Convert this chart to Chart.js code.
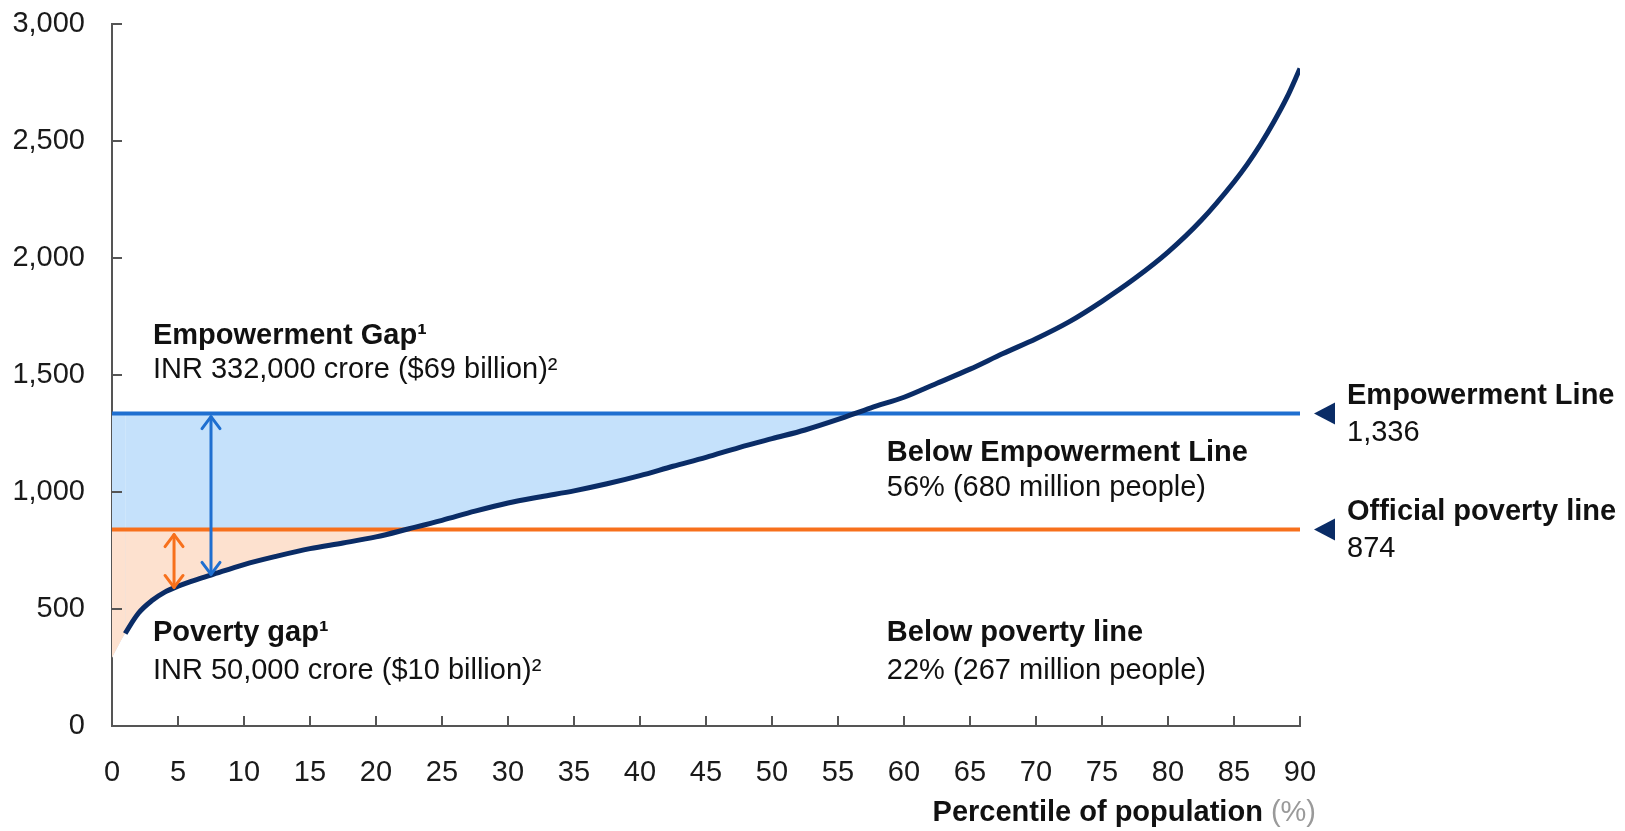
<!DOCTYPE html>
<html>
<head>
<meta charset="utf-8">
<script src="https://cdn.jsdelivr.net/npm/chart.js@4.4.1/dist/chart.umd.min.js"></script>
<style>
  html, body { margin: 0; padding: 0; background: #ffffff; }
  #wrap { width: 1625px; height: 831px; }
</style>
</head>
<body>
<div id="wrap"><canvas id="c" width="1625" height="831"></canvas></div>
<script>
// ---- data ----
const percentile = [0, 1, 2, 3, 4, 5, 6, 7.5, 10, 12.5, 15, 17.5, 20, 22.5, 25, 27.5, 30, 32.5, 35, 37.5, 40, 42.5, 45, 47.5, 50, 52.5, 55, 57.5, 60, 62.5, 65, 67.5, 70, 72.5, 75, 77.5, 80, 82.5, 85, 86, 87, 88, 89, 90];
const spending   = [290, 395, 482, 535, 572, 597, 618, 645, 690, 726, 758, 782, 808, 843, 879, 918, 953, 980, 1005, 1035, 1070, 1110, 1148, 1190, 1228, 1265, 1310, 1360, 1405, 1465, 1525, 1592, 1655, 1727, 1815, 1913, 2025, 2160, 2325, 2400, 2485, 2580, 2685, 2810];
const empowermentLine = 1336;
const povertyLine = 840;            // level as drawn in the picture
const lineNames  = ['Empowerment Line', 'Official poverty line'];
const lineLabels = ['1,336', '874'];
const arrowX      = [7.5, 4.7];
const arrowTop    = [1322, 818];
const arrowBottom = [648, 592];
const xTicks = [0, 90, 5];
const yTicks = [0, 3000, 500];

const FONT = '"Liberation Sans", Arial, sans-serif';
const NAVY = '#0a2c66';
const BLUE = '#1f6fd0';
const BLUE_FILL = '#c5e1fb';
const ORANGE = '#f7701c';
const PEACH = '#fde1cf';

const curvePts = percentile.map((x, i) => ({x, y: spending[i]}));
const flat = v => [{x: xTicks[0], y: v}, {x: xTicks[1], y: v}];

const overlay = {
  id: 'overlay',
  afterDatasetsDraw(chart) {
    const {ctx, chartArea: a, scales: {x, y}} = chart;
    ctx.save();
    // inward tick marks
    ctx.strokeStyle = '#555'; ctx.lineWidth = 2;
    for (let v = yTicks[0] + yTicks[2]; v <= yTicks[1]; v += yTicks[2]) {
      const py = Math.round(y.getPixelForValue(v));
      ctx.beginPath(); ctx.moveTo(a.left, py); ctx.lineTo(a.left + 10, py); ctx.stroke();
    }
    for (let v = xTicks[0] + xTicks[2]; v <= xTicks[1]; v += xTicks[2]) {
      const px = Math.round(x.getPixelForValue(v));
      ctx.beginPath(); ctx.moveTo(px, a.bottom); ctx.lineTo(px, a.bottom - 10); ctx.stroke();
    }
    // gap arrows
    const cols = [BLUE, ORANGE];
    arrowX.forEach((xv, i) => {
      const px = x.getPixelForValue(xv);
      const t = y.getPixelForValue(arrowTop[i]);
      const b = y.getPixelForValue(arrowBottom[i]);
      ctx.strokeStyle = cols[i]; ctx.lineWidth = 3; ctx.lineCap = 'round'; ctx.lineJoin = 'round';
      ctx.beginPath(); ctx.moveTo(px, t); ctx.lineTo(px, b); ctx.stroke();
      ctx.beginPath(); ctx.moveTo(px - 9, t + 12); ctx.lineTo(px, t); ctx.lineTo(px + 9, t + 12); ctx.stroke();
      ctx.beginPath(); ctx.moveTo(px - 9, b - 12); ctx.lineTo(px, b); ctx.lineTo(px + 9, b - 12); ctx.stroke();
    });
    // text annotations
    ctx.textBaseline = 'middle'; ctx.textAlign = 'left'; ctx.fillStyle = '#111';
    const txt = (s, xv, yv, bold) => {
      ctx.font = (bold ? 'bold ' : '') + '29px ' + FONT;
      ctx.fillText(s, x.getPixelForValue(xv), y.getPixelForValue(yv));
    };
    txt('Empowerment Gap\u00b9', 3.1, 1667, true);
    txt('INR 332,000 crore ($69 billion)\u00b2', 3.1, 1521, false);
    txt('Poverty gap\u00b9', 3.1, 397, true);
    txt('INR 50,000 crore ($10 billion)\u00b2', 3.1, 235, false);
    txt('Below Empowerment Line', 58.7, 1167, true);
    txt('56% (680 million people)', 58.7, 1017, false);
    txt('Below poverty line', 58.7, 397, true);
    txt('22% (267 million people)', 58.7, 235, false);
    // right-hand markers
    [empowermentLine, povertyLine].forEach((v, i) => {
      const py = y.getPixelForValue(v);
      ctx.fillStyle = NAVY;
      ctx.beginPath();
      ctx.moveTo(a.right + 14, py); ctx.lineTo(a.right + 35, py - 11); ctx.lineTo(a.right + 35, py + 11);
      ctx.closePath(); ctx.fill();
      ctx.fillStyle = '#111';
      ctx.font = 'bold 29px ' + FONT;
      ctx.fillText(lineNames[i], a.right + 47, py - 17);
      ctx.font = '29px ' + FONT;
      ctx.fillText(lineLabels[i], a.right + 47, py + 20);
    });
    // x axis title
    ctx.textAlign = 'left';
    ctx.font = '29px ' + FONT;
    const pct = ' (%)';
    const wp = ctx.measureText(pct).width;
    ctx.font = 'bold 29px ' + FONT;
    const tt = 'Percentile of population';
    const wt = ctx.measureText(tt).width;
    const xr = a.right + 16, yc = a.bottom + 87;
    ctx.fillStyle = '#111';
    ctx.fillText(tt, xr - wp - wt, yc);
    ctx.font = '29px ' + FONT;
    ctx.fillStyle = '#9a9a9a';
    ctx.fillText(pct, xr - wp, yc);
    ctx.restore();
  }
};

new Chart(document.getElementById('c'), {
  type: 'line',
  data: {
    datasets: [
      {
        label: 'Spending',
        data: curvePts,
        borderColor: NAVY,
        borderWidth: 5,
        pointRadius: 0,
        cubicInterpolationMode: 'monotone',
        fill: false,
        segment: { borderColor: c => c.p0DataIndex === 0 ? 'rgba(0,0,0,0)' : undefined }
      },
      {
        label: 'Official poverty line',
        data: flat(povertyLine),
        borderColor: ORANGE,
        borderWidth: 4,
        pointRadius: 0,
        fill: { target: 0, above: PEACH, below: 'rgba(0,0,0,0)' }
      },
      {
        label: 'Empowerment Line',
        data: flat(empowermentLine),
        borderColor: BLUE,
        borderWidth: 4,
        pointRadius: 0,
        fill: { target: 0, above: BLUE_FILL, below: 'rgba(0,0,0,0)' }
      }
    ]
  },
  options: {
    responsive: false,
    animation: false,
    devicePixelRatio: 1,
    layout: { padding: { top: 24, right: 325, left: 0, bottom: 0 } },
    plugins: { legend: { display: false }, tooltip: { enabled: false } },
    scales: {
      x: {
        type: 'linear', min: xTicks[0], max: xTicks[1],
        ticks: { stepSize: xTicks[2], padding: 30, color: '#1a1a1a', font: { family: FONT, size: 29 }, maxRotation: 0 },
        grid: { display: true, drawOnChartArea: false, drawTicks: false },
        border: { display: true, color: '#555', width: 2 },
        afterFit: s => { s.height = 105; s.paddingLeft = 0; s.paddingRight = 0; }
      },
      y: {
        min: yTicks[0], max: yTicks[1],
        ticks: { stepSize: yTicks[2], padding: 27, color: '#1a1a1a', font: { family: FONT, size: 29 } },
        grid: { display: true, drawOnChartArea: false, drawTicks: false },
        border: { display: true, color: '#555', width: 2 },
        afterFit: s => { s.width = 112; s.paddingTop = 0; s.paddingBottom = 0; }
      }
    }
  },
  plugins: [overlay]
});
</script>
</body>
</html>
